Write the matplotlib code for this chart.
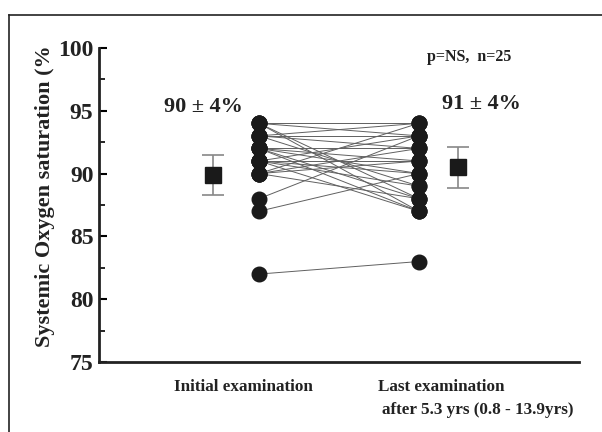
import matplotlib
matplotlib.use('Agg')
import matplotlib.pyplot as plt
from matplotlib.lines import Line2D
from matplotlib.ticker import MultipleLocator

# ─── DATA ────────────────────────────────────────────────────────────────────
# paired saturation values (%), one entry per patient
INITIAL = [94, 94, 94, 94, 93, 93, 93, 93, 92, 92, 92, 92, 92,
           91, 91, 91, 91, 91, 90, 90, 90, 90, 88, 87, 82]
LAST = [94, 93, 88, 87, 93, 92, 89, 94, 92, 91, 88, 87, 90,
        91, 93, 89, 90, 87, 94, 92, 88, 91, 93, 90, 83]

# group means and error bars
MEAN_INITIAL = 89.9
MEAN_LAST = 90.5
ERR_INITIAL = 1.6
ERR_LAST = 1.65

Y_TICKS = [75, 80, 85, 90, 95, 100]

SERIF = ['Liberation Serif', 'DejaVu Serif']
INK = '#222222'

fig = plt.figure(figsize=(6.02, 4.32), dpi=100)
ax = fig.add_axes([0.1645, 0.162, 0.797, 0.727])

# paired lines
for a, b in zip(INITIAL, LAST):
    ax.plot([1, 2], [a, b], color='#606060', lw=0.7, zorder=1)

ax.plot([1] * len(INITIAL), INITIAL, 'o', color='#1a1a1a', ms=10.5, zorder=3)
ax.plot([2] * len(LAST), LAST, 'o', color='#1a1a1a', ms=10.5, zorder=3)

# means with error bars
ax.errorbar([0.7125], [MEAN_INITIAL], yerr=[ERR_INITIAL], fmt='s',
            color='#1a1a1a', ecolor='#888888', elinewidth=1.2, capsize=8,
            capthick=1.2, ms=11, zorder=4)
ax.errorbar([2.245], [MEAN_LAST], yerr=[ERR_LAST], fmt='s',
            color='#1a1a1a', ecolor='#888888', elinewidth=1.2, capsize=8,
            capthick=1.2, ms=11, zorder=4)

ax.set_xlim(0, 3)
ax.set_ylim(75, 100)
ax.set_yticks(Y_TICKS)
ax.yaxis.set_minor_locator(MultipleLocator(2.5))
ax.set_xticks([])
ax.tick_params(axis='y', which='major', direction='in', length=6, width=1.5, pad=4)
ax.tick_params(axis='y', which='minor', direction='in', length=4, width=1.2)
for lab in ax.get_yticklabels():
    lab.set_fontfamily(SERIF)
    lab.set_fontweight('bold')
    lab.set_fontsize(17)
    lab.set_color(INK)

for side in ['top', 'right']:
    ax.spines[side].set_visible(False)
for side in ['left', 'bottom']:
    ax.spines[side].set_linewidth(2)
    ax.spines[side].set_color(INK)

fig.text(0.075, 0.545, 'Systemic Oxygen saturation (%', rotation=90,
         ha='center', va='center', fontsize=16, fontweight='bold',
         family=SERIF, color=INK)

fig.text(0.338, 0.752, '90 \u00b1 4%', ha='center', va='center', fontsize=16,
         fontweight='bold', family=SERIF, color=INK)
fig.text(0.8, 0.76, '91 \u00b1 4%', ha='center', va='center', fontsize=16,
         fontweight='bold', family=SERIF, color=INK)
fig.text(0.709, 0.868, 'p=NS,  n=25', ha='left', va='center', fontsize=11.5,
         fontweight='bold', family=SERIF, color=INK)

fig.text(0.405, 0.104, 'Initial examination', ha='center', va='center',
         fontsize=12.3, fontweight='bold', family=SERIF, color=INK)
fig.text(0.628, 0.104, 'Last examination', ha='left', va='center',
         fontsize=12.3, fontweight='bold', family=SERIF, color=INK)
fig.text(0.634, 0.051, 'after 5.3 yrs (0.8 - 13.9yrs)', ha='left', va='center',
         fontsize=12.3, fontweight='bold', family=SERIF, color=INK)

# frame around the figure (left and top edges)
fig.add_artist(Line2D([9 / 602, 9 / 602], [0, 1 - 15 / 432], color=INK, lw=1.2))
fig.add_artist(Line2D([9 / 602, 1], [1 - 15 / 432, 1 - 15 / 432], color=INK, lw=1.2))

fig.savefig('out.png', dpi=100)
